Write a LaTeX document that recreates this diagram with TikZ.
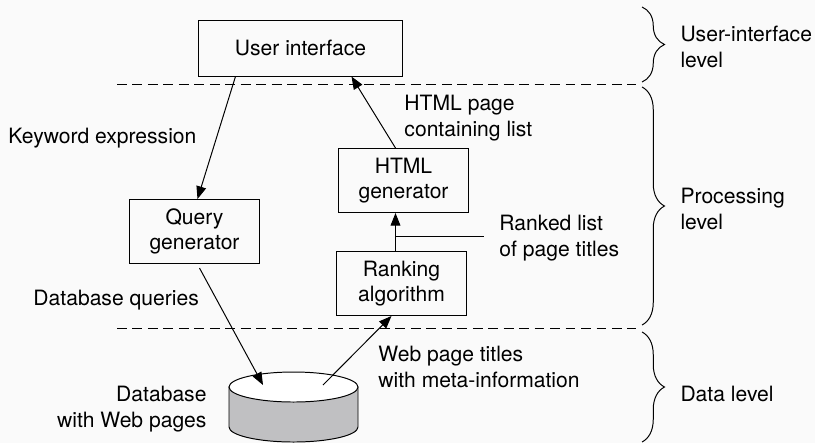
\documentclass[tikz,border=0pt]{standalone}
\usepackage{fontspec}
\setmainfont{TeX Gyre Heros}
\usetikzlibrary{arrows.meta,calc,decorations.pathreplacing}
\definecolor{bgpaper}{RGB}{250,250,250}
\definecolor{dbgray}{RGB}{192,192,194}

\begin{document}
\begin{tikzpicture}[x=0.025cm,y=-0.025cm,line width=0.7pt,
  font=\fontsize{15}{18}\selectfont,
  box/.style={draw,inner sep=0pt,align=center,minimum width=3.225cm,minimum height=1.6cm},
  lbl/.style={inner sep=0pt,align=left,anchor=west},
  arr/.style={-{Triangle[length=9pt,width=7pt]}},
  lvl/.style={decorate,decoration={brace,amplitude=16pt}}]
\useasboundingbox (0,0) rectangle (815,443);
\fill [bgpaper] (0,0) rectangle (815,443);

% levels
\coordinate (sepa) at (117,84);
\coordinate (sepb) at (117,328);
\draw [dash pattern=on 7pt off 4pt] (sepa) -- ++(519,0);
\draw [dash pattern=on 7pt off 4pt] (sepb) -- ++(519,0);

\draw [lvl] (642,7) -- (642,82);
\draw [lvl] (642,87) -- (642,325);
\draw [lvl] (642,332) -- (642,442);

\node [lbl] (uilevel) at (680,47) {User-interface\\level};
\node [lbl] (proclevel) at (680,209) {Processing\\level};
\node [lbl] (datalevel) at (680,394) {Data level};

% components
\node [box,minimum width=5.075cm,minimum height=1.4cm] (ui) at (300.5,48) {User interface};
\node [box] (query) at (194.5,231.5) {Query\\generator};
\node [box] (html) at (403.5,180.5) {HTML\\generator};
\node [box] (rank) at (401.5,283.5) {Ranking\\algorithm};

% database
\filldraw [fill=dbgray] (229,387) -- (229,427) arc [start angle=180,end angle=0,x radius=64.5,y radius=15] -- (358,387) -- cycle;
\filldraw [fill=white] (293.5,387) ellipse [x radius=64.5,y radius=15];
\coordinate (dbin) at (263,385);
\coordinate (dbout) at (323,385);

% texts
\node [lbl] (kwexpr) at (8,138) {Keyword expression};
\node [lbl] (dbqueries) at (33,300) {Database queries};
\node [lbl] (htmlpage) at (404,118) {HTML page\\containing list};
\node [lbl] (ranked) at (499,238) {Ranked list\\of page titles};
\node [lbl] (webtitles) at (378,367) {Web page titles\\with meta-information};
\node [lbl,anchor=east,align=right] (dblabel) at (207,409) {Database\\with Web pages};

% flow
\draw [arr] ($(ui.south west)+(37,0)$) -- ($(query.north west)+(68,0)$);
\draw [arr] ($(query.south west)+(70,4)$) -- (dbin);
\draw [arr] (dbout) -- ($(rank.south west)+(55,0)$);
\draw [arr] ($(rank.north west)+(59,0)$) -- ($(html.south west)+(57,0)$);
\coordinate (rl) at ($(rank.north west)+(59,-15)$);
\draw (rl) -- ($(rl -| ranked.west)+(-15,0)$);
\draw [arr] ($(html.north west)+(57,0)$) -- ($(ui.south west)+(153,0)$);

\end{tikzpicture}
\end{document}
